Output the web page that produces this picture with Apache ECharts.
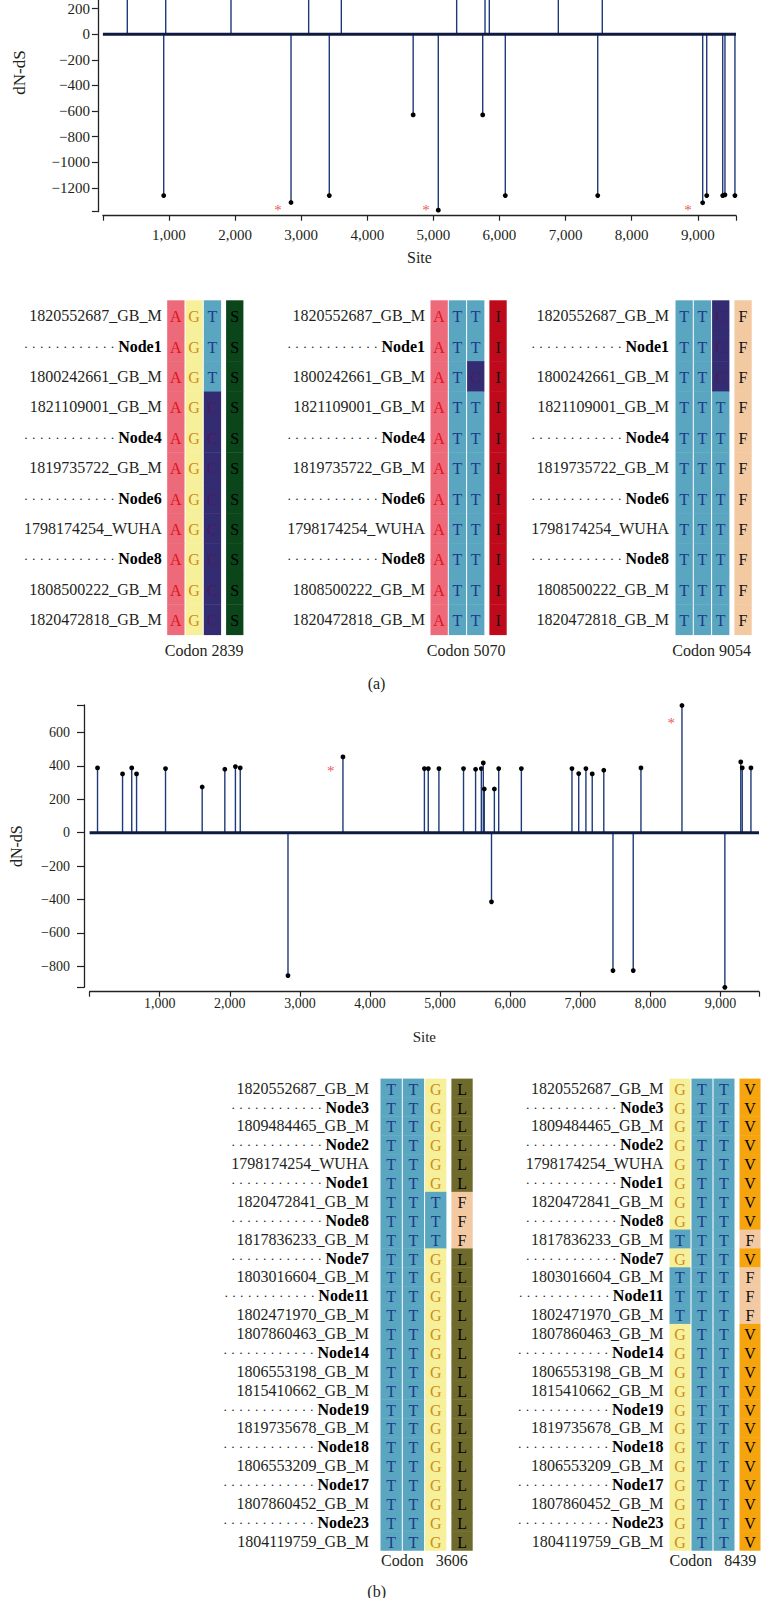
<!DOCTYPE html>
<html><head><meta charset="utf-8">
<script src="https://cdn.jsdelivr.net/npm/echarts@6/dist/echarts.min.js"></script>
<style>
html,body{margin:0;padding:0;background:#fff;overflow:hidden;width:762px;height:1598px;position:relative}
#c{position:absolute;left:0;top:-60px;width:762px;height:1658px}
</style>
</head><body><div id="c"></div>
<script>
// ================= DATA =================
// Panel (a) stem chart: site vs dN-dS
const sitesA  = [369, 950, 1938, 3113, 3607, 5352, 5781, 5846, 6890, 7555,
                 920, 2846, 3425, 4694, 5074, 5746, 6088, 7486, 9074, 9135, 9377, 9411, 9562];
const valuesA = [390, 390, 390, 390, 390, 390, 390, 390, 390, 390,
                 -1260, -1314, -1260, -630, -1374, -630, -1260, -1260, -1316, -1260, -1260, -1254, -1260];
const starSitesA  = [2649, 4888, 8851];
const starValuesA = [-1339, -1339, -1339];
const yTicksA = [200, 0, -200, -400, -600, -800, -1000, -1200];

// Panel (b) stem chart
const sitesB  = [113, 470, 601, 670, 1083, 1606, 1929, 2080, 2149, 2830, 3614, 4776, 4831, 4983, 5334, 5506, 5588, 5616,
                 5630, 5733, 5774, 5836, 6159, 6881, 6977, 7080, 7170, 7335, 7466, 7755, 7865, 8450, 9062, 9289, 9310, 9434];
const valuesB = [388, 352, 388, 352, 384, 274, 380, 396, 388, -856, 454, 384, 384, 384, 384, 380, 384, 418,
                 262, -414, 262, 384, 384, 384, 354, 384, 352, 374, -826, -826, 388, 762, -926, 424, 388, 388];
const starSitesB  = [3441, 8297];
const starValuesB = [396, 682];
const yTicksB = [600, 400, 200, 0, -200, -400, -600, -800];

const xTicks = [1000, 2000, 3000, 4000, 5000, 6000, 7000, 8000, 9000];

// Alignments
const namesA = ['1820552687_GB_M','Node1','1800242661_GB_M','1821109001_GB_M','Node4','1819735722_GB_M',
                'Node6','1798174254_WUHA','Node8','1808500222_GB_M','1820472818_GB_M'];
const codons2839 = ['AGT','AGT','AGT','AGC','AGC','AGC','AGC','AGC','AGC','AGC','AGC'];
const aa2839     = ['S','S','S','S','S','S','S','S','S','S','S'];
const codons5070 = ['ATT','ATT','ATC','ATT','ATT','ATT','ATT','ATT','ATT','ATT','ATT'];
const aa5070     = ['I','I','I','I','I','I','I','I','I','I','I'];
const codons9054 = ['TTC','TTC','TTC','TTT','TTT','TTT','TTT','TTT','TTT','TTT','TTT'];
const aa9054     = ['F','F','F','F','F','F','F','F','F','F','F'];

const namesB = ['1820552687_GB_M','Node3','1809484465_GB_M','Node2','1798174254_WUHA','Node1','1820472841_GB_M',
                'Node8','1817836233_GB_M','Node7','1803016604_GB_M','Node11','1802471970_GB_M','1807860463_GB_M',
                'Node14','1806553198_GB_M','1815410662_GB_M','Node19','1819735678_GB_M','Node18','1806553209_GB_M',
                'Node17','1807860452_GB_M','Node23','1804119759_GB_M'];
const codons3606 = ['TTG','TTG','TTG','TTG','TTG','TTG','TTT','TTT','TTT','TTG','TTG','TTG','TTG','TTG',
                    'TTG','TTG','TTG','TTG','TTG','TTG','TTG','TTG','TTG','TTG','TTG'];
const aa3606     = ['L','L','L','L','L','L','F','F','F','L','L','L','L','L','L','L','L','L','L','L','L','L','L','L','L'];
const codons8439 = ['GTT','GTT','GTT','GTT','GTT','GTT','GTT','GTT','TTT','GTT','TTT','TTT','TTT','GTT',
                    'GTT','GTT','GTT','GTT','GTT','GTT','GTT','GTT','GTT','GTT','GTT'];
const aa8439     = ['V','V','V','V','V','V','V','V','F','V','F','F','F','V','V','V','V','V','V','V','V','V','V','V','V'];

const codonLabels = ['Codon 2839', 'Codon 5070', 'Codon 9054', 'Codon\u00a0\u00a0\u00a03606', 'Codon\u00a0\u00a0\u00a08439'];
const panelLabels = ['(a)', '(b)'];

// ================= STYLE / LAYOUT =================
const OFF = 60;
const FONT = 'Liberation Serif, DejaVu Serif, serif';
const TXT = '#231f20';
const STEM = '#1e3a78';
const ZERO = '#0e1a40';
const NUC = {A:{bg:'#ec6a79',fg:'#e3121c'}, G:{bg:'#f7f09b',fg:'#cf8c1c'}, T:{bg:'#5aa6c1',fg:'#1b3a8a'}, C:{bg:'#332c72',fg:'#4a1c5c'}};
const AA  = {S:{bg:'#0b451a',fg:'#000'}, I:{bg:'#bf0a1c',fg:'#111'}, F:{bg:'#f2c9a1',fg:'#111'}, L:{bg:'#6e6a2b',fg:'#000'}, V:{bg:'#f5a40d',fg:'#000'}};

const panels = [
  {names:namesA, codons:codons2839, aas:aa2839, label:codonLabels[0], left:166.7, top:300.5, colW:18.3, gap:4, rowH:30.4, margin:5,  lx:243.5, ly:650, la:'right'},
  {names:namesA, codons:codons5070, aas:aa5070, label:codonLabels[1], left:430,   top:300.5, colW:18.3, gap:4, rowH:30.4, margin:5,  lx:505.5, ly:650, la:'right'},
  {names:namesA, codons:codons9054, aas:aa9054, label:codonLabels[2], left:675,   top:300.5, colW:18.3, gap:4, rowH:30.4, margin:6,  lx:751,   ly:650, la:'right'},
  {names:namesB, codons:codons3606, aas:aa3606, label:codonLabels[3], left:380,   top:1078.8, colW:22.3, gap:4, rowH:18.87, margin:11, lx:381, ly:1560.4, la:'left'},
  {names:namesB, codons:codons8439, aas:aa8439, label:codonLabels[4], left:669,   top:1078.8, colW:22,   gap:4, rowH:18.87, margin:5.5, lx:669.5, ly:1560.4, la:'left'}
];

const fmtNum = v => v < 0 ? '\u2212' + Math.abs(v) : String(v);
const DOTS = '· · · · · · · · · · · · ';

function stemSeries(idx, sites, vals, r) {
  const data = sites.map((s, i) => [s, vals[i]]);
  return {type:'custom', xAxisIndex:idx, yAxisIndex:idx, data, z:2, clip:false,
    renderItem(params, api) {
      const x = api.value(0), v = api.value(1);
      const p0 = api.coord([x, 0]), p1 = api.coord([x, v]);
      return {type:'group', children:[
        {type:'line', shape:{x1:p0[0], y1:p0[1], x2:p1[0], y2:p1[1]}, style:{stroke:STEM, lineWidth:1.4}},
        {type:'circle', shape:{cx:p1[0], cy:p1[1], r:r}, style:{fill:'#000'}}
      ]};
    }};
}
function zeroSeries(idx, xmax) {
  return {type:'line', xAxisIndex:idx, yAxisIndex:idx, data:[[0,0],[xmax,0]], symbol:'none', z:5,
    lineStyle:{color:ZERO, width:3}, silent:true};
}
function starSeries(idx, sites, vals) {
  return {type:'scatter', xAxisIndex:idx, yAxisIndex:idx, data:sites.map((s,i)=>[s, vals[i]]), symbolSize:1, z:6,
    itemStyle:{color:'rgba(0,0,0,0)'},
    label:{show:true, position:'inside', formatter:'*', color:'#e8262b', fontSize:15, fontFamily:FONT, offset:[0,4]}};
}

const grids = [
  {left:102.9, top:-42.5+OFF, width:633.1, height:254.2},
  {left:84.6, top:705+OFF, width:675.1, height:282.3}
];
const xAxes = [
  {gridIndex:0, type:'value', min:0, max:9578, minInterval:1000, maxInterval:1000, offset:4,
   axisLine:{show:true, onZero:false, lineStyle:{color:'#222', width:1.3}},
   axisTick:{show:true, length:5, lineStyle:{color:'#222', width:1.2}},
   axisLabel:{margin:12, fontSize:15, fontFamily:FONT, color:TXT, formatter:v => xTicks.includes(v) ? v.toLocaleString('en-US') : ''},
   splitLine:{show:false}, name:'Site', nameLocation:'middle', nameGap:34,
   nameTextStyle:{fontSize:16, fontFamily:FONT, color:TXT}},
  {gridIndex:1, type:'value', min:0, max:9549, minInterval:1000, maxInterval:1000, offset:4.4,
   axisLine:{show:true, onZero:false, lineStyle:{color:'#222', width:1.3}},
   axisTick:{show:true, length:5, lineStyle:{color:'#222', width:1.2}},
   axisLabel:{margin:5, fontSize:14, fontFamily:FONT, color:TXT, formatter:v => xTicks.includes(v) ? v.toLocaleString('en-US') : ''},
   splitLine:{show:false}, name:'Site', nameLocation:'middle', nameGap:38,
   nameTextStyle:{fontSize:15, fontFamily:FONT, color:TXT}}
];
const yAxes = [
  {gridIndex:0, type:'value', min:-1386, max:600, minInterval:200, maxInterval:200, offset:5,
   axisLine:{show:true, onZero:false, lineStyle:{color:'#222', width:1.3}},
   axisTick:{show:true, length:6, lineStyle:{color:'#222', width:1.2}},
   axisLabel:{margin:8, fontSize:15, fontFamily:FONT, color:TXT, formatter:v => yTicksA.includes(v) ? fmtNum(v) : ''},
   splitLine:{show:false}, name:'dN-dS', nameLocation:'middle', nameGap:70,
   nameTextStyle:{fontSize:17, fontFamily:FONT, color:TXT, padding:[0,0,0,24]}},
  {gridIndex:1, type:'value', min:-926, max:765, minInterval:200, maxInterval:200, offset:5.6,
   axisLine:{show:true, onZero:false, lineStyle:{color:'#222', width:1.3}},
   axisTick:{show:true, length:7, lineStyle:{color:'#222', width:1.2}},
   axisLabel:{margin:14, fontSize:14, fontFamily:FONT, color:TXT, formatter:v => yTicksB.includes(v) ? fmtNum(v) : ''},
   splitLine:{show:false}, name:'dN-dS', nameLocation:'middle', nameGap:60,
   nameTextStyle:{fontSize:16, fontFamily:FONT, color:TXT}}
];
const series = [
  stemSeries(0, sitesA, valuesA, 2.4), zeroSeries(0, 9578), starSeries(0, starSitesA, starValuesA),
  stemSeries(1, sitesB, valuesB, 2.4), zeroSeries(1, 9549), starSeries(1, starSitesB, starValuesB)
];
const graphics = [];

panels.forEach((p, k) => {
  const gi = 2 + k;
  const gapU = p.gap / p.colW;
  const n = p.names.length;
  grids.push({left:p.left, top:p.top + OFF, width:p.colW * 4 + p.gap, height:p.rowH * n});
  xAxes.push({gridIndex:gi, type:'value', min:0, max:4 + gapU, show:false});
  yAxes.push({gridIndex:gi, type:'category', data:p.names, inverse:true,
    axisLine:{show:false}, axisTick:{show:false}, splitLine:{show:false},
    axisLabel:{interval:0, margin:p.margin, fontSize:16, fontFamily:FONT, color:TXT,
      formatter: v => v.startsWith('Node') ? '{d|' + DOTS + '}{n|' + v + '}' : v,
      rich:{d:{fontSize:13.5, fontFamily:FONT, color:TXT}, n:{fontSize:16, fontFamily:FONT, color:'#000', fontWeight:'bold'}}}});
  const cells = [];
  p.codons.forEach((cod, r) => {
    for (let j = 0; j < 3; j++) cells.push([j, r, cod[j], 'n']);
    cells.push([3 + gapU, r, p.aas[r], 'a']);
  });
  series.push({type:'custom', xAxisIndex:gi, yAxisIndex:gi, data:cells.map(c => [c[0], c[1]]),
    renderItem(params, api) {
      const c = cells[params.dataIndex];
      const pt = api.coord([api.value(0), api.value(1)]);
      const sz = api.size([1, 1]);
      const st = c[3] === 'n' ? NUC[c[2]] : AA[c[2]];
      return {type:'group', children:[
        {type:'rect', shape:{x:pt[0] + 0.5, y:pt[1] - sz[1] / 2 - 0.2, width:sz[0] - 1, height:sz[1] + 0.4}, style:{fill:st.bg}},
        {type:'text', x:pt[0] + sz[0] / 2, y:pt[1] + 1,
         style:{text:c[2], fill:st.fg, fontSize:16, fontFamily:FONT, align:'center', verticalAlign:'middle'}}
      ]};
    }});
  graphics.push({type:'text', x:p.lx, y:p.ly + OFF,
    style:{text:p.label, fill:TXT, fontSize:16, fontFamily:FONT, align:p.la, verticalAlign:'middle'}});
});
graphics.push({type:'text', x:376.5, y:683 + OFF, style:{text:panelLabels[0], fill:TXT, fontSize:16, fontFamily:FONT, align:'center', verticalAlign:'middle'}});
graphics.push({type:'text', x:376.7, y:1591 + OFF, style:{text:panelLabels[1], fill:TXT, fontSize:16, fontFamily:FONT, align:'center', verticalAlign:'middle'}});

const chart = echarts.init(document.getElementById('c'), null, {renderer:'svg'});
chart.setOption({
  animation:false, backgroundColor:'#fff',
  grid:grids, xAxis:xAxes, yAxis:yAxes, series:series, graphic:graphics
});
</script>
</body></html>
